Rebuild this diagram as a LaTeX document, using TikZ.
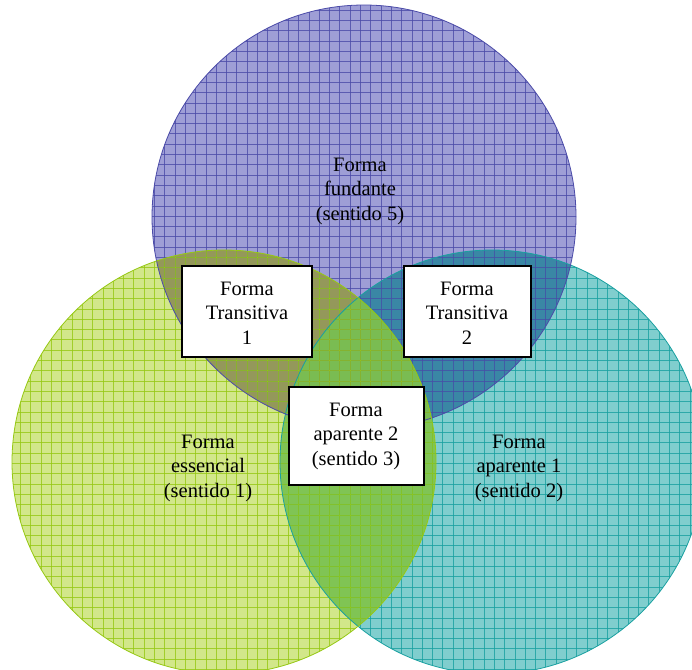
\documentclass[tikz,border=0pt]{standalone}
\usepackage{fontspec}
\setmainfont{Liberation Serif}
\definecolor{pfill}{RGB}{158,158,214}
\definecolor{pline}{RGB}{75,75,168}
\definecolor{gfill}{RGB}{210,231,138}
\definecolor{gline}{RGB}{150,200,20}
\definecolor{tfill}{RGB}{128,206,206}
\definecolor{tline}{RGB}{25,160,160}
\definecolor{pgfillc}{RGB}{148,152,90}
\definecolor{ptfillc}{RGB}{58,135,165}
\definecolor{gtfillc}{RGB}{128,196,84}
\definecolor{pgtfillc}{RGB}{122,188,82}
\tikzset{
  lbl/.style={align=center, font=\fontsize{20.5}{24.5}\selectfont, inner sep=0pt},
  boxframe/.style={draw=black, line width=2.2pt, fill=white},
  gridln/.style={line width=0.9pt, opacity=0.8},
}
\def\circP{(364,217) circle (212)}
\def\circG{(224,462) circle (212)}
\def\circT{(492,462) circle (212)}
\begin{document}
\begin{tikzpicture}[x=1pt,y=-1pt]
\useasboundingbox (0,0) rectangle (692,669);
\clip (0,0) rectangle (692,669);
% base fills
\fill[tfill] \circT;
\fill[pfill] \circP;
\fill[gfill] \circG;
% overlaps
\begin{scope}\clip \circP; \fill[pgfillc] \circG; \end{scope}
\begin{scope}\clip \circP; \fill[ptfillc] \circT; \end{scope}
\begin{scope}\clip \circG; \fill[gtfillc] \circT; \end{scope}
\begin{scope}\clip \circP; \clip \circG; \fill[pgtfillc] \circT; \end{scope}
% grids
\begin{scope}
  \clip \circT;
  \foreach \i in {0,...,70} {
    \draw[gridln, tline] (\i*10.3,0) -- (\i*10.3,680);
    \draw[gridln, tline] (0,\i*10.3) -- (700,\i*10.3);
  }
\end{scope}
\begin{scope}
  \clip \circP;
  \foreach \i in {0,...,70} {
    \draw[gridln, pline] (\i*10.3,0) -- (\i*10.3,680);
    \draw[gridln, pline] (0,\i*10.3) -- (700,\i*10.3);
  }
\end{scope}
\begin{scope}
  \clip \circG;
  \foreach \i in {0,...,70} {
    \draw[gridln, gline] (\i*10.3,0) -- (\i*10.3,680);
    \draw[gridln, gline] (0,\i*10.3) -- (700,\i*10.3);
  }
\end{scope}
% outlines
\draw[tline, line width=0.8pt] \circT;
\draw[pline, line width=0.8pt] \circP;
\draw[gline, line width=0.8pt] \circG;
% circle labels
\node[lbl] (fund) at (360,191) {Forma\\fundante\\(sentido 5)};
\node[lbl] (ess) at (208,468) {Forma\\essencial\\(sentido 1)};
\node[lbl] (ap1) at (519,468) {Forma\\aparente 1\\(sentido 2)};
% boxes
\draw[boxframe] (182,266) rectangle (312,357);
\node[lbl] (t1) at (247,313) {Forma\\Transitiva\\1};
\draw[boxframe] (404,266) rectangle (531,357);
\node[lbl] (t2) at (467,313) {Forma\\Transitiva\\2};
\draw[boxframe] (289,387) rectangle (424,485);
\node[lbl] (a2) at (356,436) {Forma\\aparente 2\\(sentido 3)};
\end{tikzpicture}
\end{document}
